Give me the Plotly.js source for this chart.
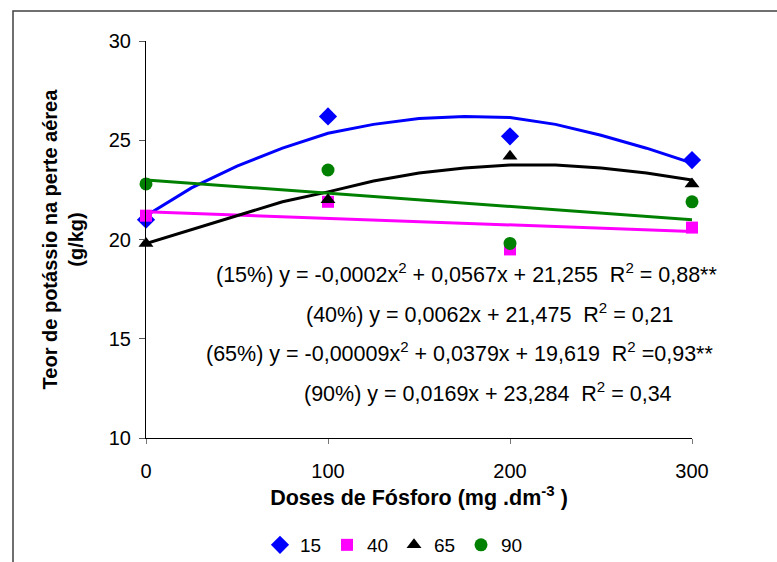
<!DOCTYPE html>
<html>
<head>
<meta charset="utf-8">
<script src="https://cdn.plot.ly/plotly-3.0.1.min.js"></script>
<style>
html,body{margin:0;padding:0;background:#fff;}
#chart{width:777px;height:562px;}
</style>
</head>
<body>
<div id="chart"></div>
<script>
// Doses de fósforo (mg dm-3)
const doses = [0, 100, 200, 300];
// Observed values (g/kg) per series
const k15 = [21.0, 26.2, 25.2, 24.0];
const k40 = [21.2, 21.9, 19.5, 20.6];
const k65 = [19.8, 22.0, 24.2, 22.8];
const k90 = [22.8, 23.5, 19.8, 21.9];
// Trend curves
const curveX = [0, 25, 50, 75, 100, 125, 150, 175, 200, 225, 250, 275, 300];
const fit15 = [21.2, 22.6, 23.7, 24.6, 25.35, 25.8, 26.1, 26.2, 26.15, 25.8, 25.25, 24.6, 23.85];
const fit65 = [19.8, 20.5, 21.2, 21.9, 22.4, 22.95, 23.35, 23.6, 23.75, 23.75, 23.6, 23.35, 23.0];
const lineX = [0, 300];
const fit40 = [21.4, 20.4];
const fit90 = [23.0, 21.0];
// Legend names
const names = ['15', '40', '65', '90'];
const xTicks = [0, 100, 200, 300];
const yTicks = [10, 15, 20, 25, 30];
const equations = [
  '(15%) y = -0,0002x<sup>2</sup> + 0,0567x + 21,255 \u00a0R<sup>2</sup> = 0,88**',
  '(40%) y = 0,0062x + 21,475 \u00a0R<sup>2</sup> = 0,21',
  '(65%) y = -0,00009x<sup>2</sup> + 0,0379x + 19,619 \u00a0R<sup>2</sup> =0,93**',
  '(90%) y = 0,0169x + 23,284 \u00a0R<sup>2</sup> = 0,34'
];
const eqX = [176, 189, 172, 188];
const eqY = [18.3, 16.3, 14.33, 12.3];

const FONT = 'Liberation Sans, Arial, sans-serif';
const colors = ['#0000FF', '#FF00FF', '#000000', '#008000'];
const symbols = ['diamond', 'square', 'triangle-up', 'circle'];
const sizes = [14, 12, 13, 13];
const obs = [k15, k40, k65, k90];

const traces = [
  {x: curveX, y: fit15, mode: 'lines', line: {color: colors[0], width: 3}, showlegend: false, hoverinfo: 'skip'},
  {x: lineX, y: fit40, mode: 'lines', line: {color: colors[1], width: 3}, showlegend: false, hoverinfo: 'skip'},
  {x: curveX, y: fit65, mode: 'lines', line: {color: colors[2], width: 3}, showlegend: false, hoverinfo: 'skip'},
  {x: lineX, y: fit90, mode: 'lines', line: {color: colors[3], width: 3}, showlegend: false, hoverinfo: 'skip'}
];
for (let i = 0; i < 4; i++) {
  traces.push({
    x: doses, y: obs[i], name: names[i], mode: 'markers', cliponaxis: false,
    marker: {symbol: symbols[i], size: sizes[i], color: colors[i], line: {width: 0}}
  });
}

const L = 146, R = 85, T = 41, B = 124;
const pw = 777 - L - R, ph = 562 - T - B;

const layout = {
  width: 777, height: 562,
  margin: {l: L, r: R, t: T, b: B, pad: 0, autoexpand: false},
  paper_bgcolor: '#fff', plot_bgcolor: '#fff',
  font: {family: FONT, size: 20, color: '#000'},
  showlegend: true,
  legend: {
    orientation: 'h', x: (394 - L) / pw, xanchor: 'center',
    y: -(545 - (562 - B)) / ph, yanchor: 'middle',
    font: {family: FONT, size: 19, color: '#000'},
    itemwidth: 30, entrywidth: 22, tracegroupgap: 0, bgcolor: 'rgba(0,0,0,0)'
  },
  xaxis: {
    range: [0, 300], tickvals: xTicks, ticktext: xTicks.map(String),
    showgrid: false, zeroline: false, showline: true, linecolor: '#000', linewidth: 1,
    ticks: 'outside', ticklen: 5, tickcolor: '#777', tickwidth: 1,
    ticklabelstandoff: 10,
    tickfont: {family: FONT, size: 20, color: '#000'},
    title: {text: '<b>Doses de Fósforo (mg .dm<sup>-3</sup> )</b>', font: {family: FONT, size: 21.5, color: '#000'}, standoff: 4}
  },
  yaxis: {
    range: [10, 30], tickvals: yTicks, ticktext: yTicks.map(String),
    showgrid: false, zeroline: false, showline: true, linecolor: '#000', linewidth: 1,
    ticks: 'outside', ticklen: 6, tickcolor: '#555', tickwidth: 1,
    ticklabelstandoff: 4,
    tickfont: {family: FONT, size: 20, color: '#000'},
    title: {text: '<b>Teor de potássio na perte aérea<br>(g/kg)</b>', font: {family: FONT, size: 20, color: '#000'}, standoff: 19}
  },
  annotations: equations.map((t, i) => ({
    x: eqX[i], y: eqY[i], xref: 'x', yref: 'y', text: t, showarrow: false,
    xanchor: 'center', yanchor: 'middle', font: {family: FONT, size: 21.5, color: '#000'}
  })),
  shapes: [{
    type: 'rect', xref: 'paper', yref: 'paper',
    x0: (13 - L) / pw, x1: 2, y0: -2, y1: ((562 - B) - 11) / ph,
    line: {color: '#404040', width: 1.5}, fillcolor: 'rgba(0,0,0,0)', layer: 'below'
  }]
};

Plotly.newPlot('chart', traces, layout, {displayModeBar: false, staticPlot: true});
</script>
</body>
</html>
